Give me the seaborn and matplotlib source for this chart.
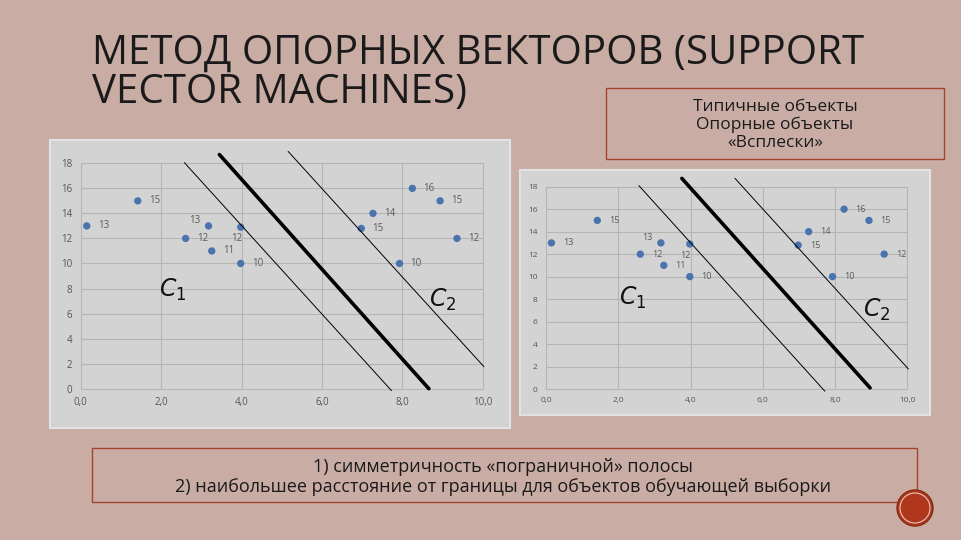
import numpy as np
import pandas as pd
import matplotlib
matplotlib.use("Agg")
import matplotlib.pyplot as plt
import seaborn as sns
from matplotlib.patches import Rectangle, Ellipse

# data points (same on both charts)
px = [0.15, 1.42, 3.18, 2.61, 3.98, 3.26, 3.98, 6.98, 7.27, 8.25, 8.94, 9.36, 7.93]
py = [13, 15, 13, 12, 12.9, 11, 10, 12.8, 14, 16, 15, 12, 10]
plabels = ["13", "15", "13", "12", "12", "11", "10", "15", "14", "16", "15", "12", "10"]
# label offsets in points (most labels sit to the right)
lab_dx = [12, 12, -10, 12, -3, 12, 12, 12, 12, 12, 12, 12, 12]
lab_dy = [0, 0, 4, 0, -8, 0, 0, 0, 0, 0, 0, 0, 0]

# separating lines for left chart: thin left, thick middle, thin right
left_lines_x = [[2.58, 7.73], [3.45, 8.66], [5.16, 10.03]]
left_lines_y = [[18.05, -0.15], [18.7, 0.0], [18.95, 1.76]]
# right chart
right_lines_x = [[2.57, 7.72], [3.76, 8.97], [5.23, 10.03]]
right_lines_y = [[18.1, -0.2], [18.74, 0.1], [18.74, 1.78]]

x_ticks = [0, 2, 4, 6, 8, 10]
y_ticks = [0, 2, 4, 6, 8, 10, 12, 14, 16, 18]

title_1 = "МЕТОД ОПОРНЫХ ВЕКТОРОВ (SUPPORT"
title_2 = "VECTOR MACHINES)"
legend_lines = "Типичные объекты\nОпорные объекты\n«Всплески»"
notes = "1) симметричность «пограничной» полосы\n2) наибольшее расстояние от границы для объектов обучающей выборки"

sns.set_theme(style="white")
plt.rcParams['font.family'] = ['Open Sans', 'DejaVu Sans']

W, H = 961, 540
slide_bg = "#c9ada5"
panel_bg = "#d3d3d3"
grid_c = "#b5b5b5"
dot_c = "#4a74ae"
box_c = "#a4432e"

fig = plt.figure(figsize=(W / 100, H / 100), dpi=100)
fig.patch.set_facecolor(slide_bg)


def fr(x0, y0, x1, y1):
    # pixel box -> figure fraction [left, bottom, width, height]
    return [x0 / W, 1 - y1 / H, (x1 - x0) / W, (y1 - y0) / H]


def panel(x0, y0, x1, y1):
    fig.add_artist(Rectangle((x0 / W, 1 - y1 / H), (x1 - x0) / W, (y1 - y0) / H,
                             transform=fig.transFigure, facecolor=panel_bg,
                             edgecolor="#e2e2e2", lw=1.5, zorder=0))


def chart(box, lines_x, lines_y, tick_fs, lab_fs, c1, c2):
    ax = fig.add_axes(fr(*box))
    ax.patch.set_alpha(0)
    for v in x_ticks:
        ax.axvline(v, color=grid_c, lw=0.8, zorder=0, clip_on=False)
    for v in y_ticks:
        ax.axhline(v, color=grid_c, lw=0.8, zorder=0, clip_on=False)
    df = pd.DataFrame({"x": px, "y": py})
    sns.scatterplot(data=df, x="x", y="y", ax=ax, color=dot_c, s=28,
                    edgecolor="none", zorder=3, clip_on=False)
    for x, y, t, dx, dy in zip(px, py, plabels, lab_dx, lab_dy):
        ax.annotate(t, (x, y), xytext=(dx, dy), textcoords="offset points",
                    ha="center", va="center", fontsize=lab_fs, color="#5a5a5a")
    widths = [0.7, 2.6, 0.7]
    for lx, ly, w in zip(lines_x, lines_y, widths):
        ld = pd.DataFrame({"x": lx, "y": ly})
        sns.lineplot(data=ld, x="x", y="y", ax=ax, color="black", lw=w,
                     sort=False, zorder=4, clip_on=False)
    ax.text(c1[0], c1[1], r"$C_1$", fontsize=17, color="#111111",
            ha="center", va="center")
    ax.text(c2[0], c2[1], r"$C_2$", fontsize=17, color="#111111",
            ha="center", va="center")
    ax.set_xlim(0, 10)
    ax.set_ylim(0, 18)
    ax.set_xticks(x_ticks)
    ax.set_xticklabels([f"{v},0" for v in x_ticks])
    ax.set_yticks(y_ticks)
    ax.tick_params(labelsize=tick_fs, colors="#555555", length=0, pad=6)
    ax.set_xlabel("")
    ax.set_ylabel("")
    for s in ax.spines.values():
        s.set_visible(False)
    return ax


panel(50, 140, 510, 428)
chart((80.7, 163.3, 482.7, 388.7), left_lines_x, left_lines_y, 7, 7,
      (2.3, 7.9), (9.0, 7.1))

panel(520, 170, 930, 415)
chart((546, 186.7, 907.3, 389), right_lines_x, right_lines_y, 6, 6.5,
      (2.4, 8.1), (9.15, 7.0))

fig.text(92 / W, 1 - 53 / H, title_1, fontsize=29, color="#1a1a1a",
         ha="left", va="center")
fig.text(92 / W, 1 - 93 / H, title_2, fontsize=29, color="#1a1a1a",
         ha="left", va="center")

fig.add_artist(Rectangle((606 / W, 1 - 159 / H), 338 / W, 71 / H,
                         transform=fig.transFigure, facecolor="none",
                         edgecolor=box_c, lw=1))
fig.text(775 / W, 1 - 125 / H, legend_lines, fontsize=12.5, color="#1a1a1a",
         ha="center", va="center", linespacing=1.15)

fig.add_artist(Rectangle((92 / W, 1 - 502 / H), 825 / W, 54 / H,
                         transform=fig.transFigure, facecolor="none",
                         edgecolor=box_c, lw=1))
fig.text(503 / W, 1 - 477 / H, notes, fontsize=13, color="#1a1a1a",
         ha="center", va="center", linespacing=1.2)

fig.add_artist(Ellipse((915 / W, 1 - 508 / H), 36 / W, 36 / H, transform=fig.transFigure,
                       facecolor="#b0361c", edgecolor="#8a2a12", lw=1))
fig.add_artist(Ellipse((915 / W, 1 - 508 / H), 30 / W, 30 / H, transform=fig.transFigure,
                       facecolor="none", edgecolor="#e8c8bc", lw=0.8))

fig.savefig("out.png", dpi=100, facecolor=slide_bg)
